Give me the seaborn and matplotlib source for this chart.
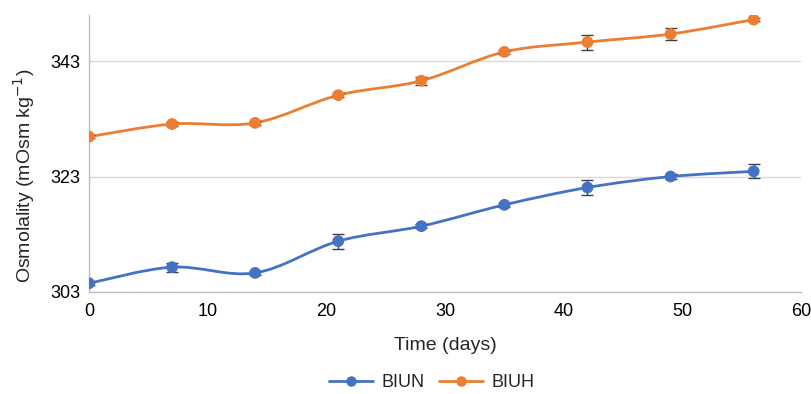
import numpy as np
import pandas as pd
import matplotlib
matplotlib.use("Agg")
import matplotlib.pyplot as plt
from matplotlib.path import Path
from matplotlib.patches import PathPatch
from matplotlib.lines import Line2D
import seaborn as sns

# Storage time and measured osmolality (mean and SD) for both samples
days = [0, 7, 14, 21, 28, 35, 42, 49, 56]
biun_mean = [304.5, 307.3, 306.3, 311.8, 314.4, 318.1, 321.1, 323.0, 323.9]
biun_sd = [0.3, 0.8, 0.3, 1.3, 0.4, 0.4, 1.3, 0.5, 1.2]
biuh_mean = [329.9, 332.1, 332.3, 337.1, 339.6, 344.6, 346.3, 347.7, 350.2]
biuh_sd = [0.3, 0.3, 0.3, 0.3, 0.7, 0.3, 1.3, 1.0, 0.3]
series_names = ["BIUN", "BIUH"]
series_colors = ["#4472C4", "#ED7D31"]
x_ticks = [0, 10, 20, 30, 40, 50, 60]
y_ticks = [303, 323, 343]

sns.set_theme(style="white")
plt.rcParams["font.family"] = ["Liberation Sans", "DejaVu Sans"]

df = pd.concat([
    pd.DataFrame({"day": days, "osm": biun_mean, "sd": biun_sd, "series": series_names[0]}),
    pd.DataFrame({"day": days, "osm": biuh_mean, "sd": biuh_sd, "series": series_names[1]}),
])

fig = plt.figure(figsize=(8.12, 3.94), dpi=100)
ax = fig.add_axes([0.1096, 0.259, 0.877, 0.703])


def smooth_path(xs, ys):
    """Catmull-Rom curve through the points, expressed as cubic Bezier segments."""
    pts = np.column_stack([xs, ys]).astype(float)
    ext = np.vstack([pts[0], pts, pts[-1]])
    verts = [tuple(pts[0])]
    codes = [Path.MOVETO]
    for i in range(1, len(ext) - 2):
        p0, p1, p2, p3 = ext[i - 1], ext[i], ext[i + 1], ext[i + 2]
        c1 = p1 + (p2 - p0) / 6.0
        c2 = p2 - (p3 - p1) / 6.0
        verts += [tuple(c1), tuple(c2), tuple(p2)]
        codes += [Path.CURVE4] * 3
    return Path(verts, codes)


for name, color in zip(series_names, series_colors):
    sub = df[df["series"] == name]
    ax.add_patch(PathPatch(smooth_path(sub["day"], sub["osm"]), facecolor="none",
                           edgecolor=color, lw=2.0, zorder=3, capstyle="round"))
    ax.errorbar(sub["day"], sub["osm"], yerr=sub["sd"], fmt="none",
                ecolor="#404040", elinewidth=1.0, capsize=4, capthick=1.0, zorder=4)

sns.scatterplot(data=df, x="day", y="osm", hue="series", palette=series_colors,
                s=72, edgecolor="none", legend=False, ax=ax, zorder=5)

ax.set_xlim(0, 60)
ax.set_ylim(303, 351)
ax.set_xticks(x_ticks)
ax.set_yticks(y_ticks)
ax.tick_params(axis="x", length=0, labelsize=13, colors="#000000", pad=8)
ax.tick_params(axis="y", length=0, labelsize=13, colors="#000000", pad=6)
ax.grid(axis="y", color="#D9D9D9", lw=1.0)
ax.grid(axis="x", visible=False)
for side in ["top", "right"]:
    ax.spines[side].set_visible(False)
for side in ["left", "bottom"]:
    ax.spines[side].set_color("#BFBFBF")
    ax.spines[side].set_linewidth(1.0)

ax.set_xlabel("Time (days)", fontsize=14, labelpad=12)
ax.set_ylabel("Osmolality (mOsm kg$^{-1}$)", fontsize=14)
ax.yaxis.set_label_coords(-0.073, 0.42)

handles = [Line2D([0], [0], color=c, lw=2.0, marker="o", markersize=6.5) for c in series_colors]
fig.legend(handles, series_names, loc="center", bbox_to_anchor=(0.532, 0.028), ncol=2,
           frameon=False, fontsize=13, handlelength=2.4, columnspacing=0.8, handletextpad=0.5,
           borderpad=0.2)

fig.savefig("out.png", dpi=100)
